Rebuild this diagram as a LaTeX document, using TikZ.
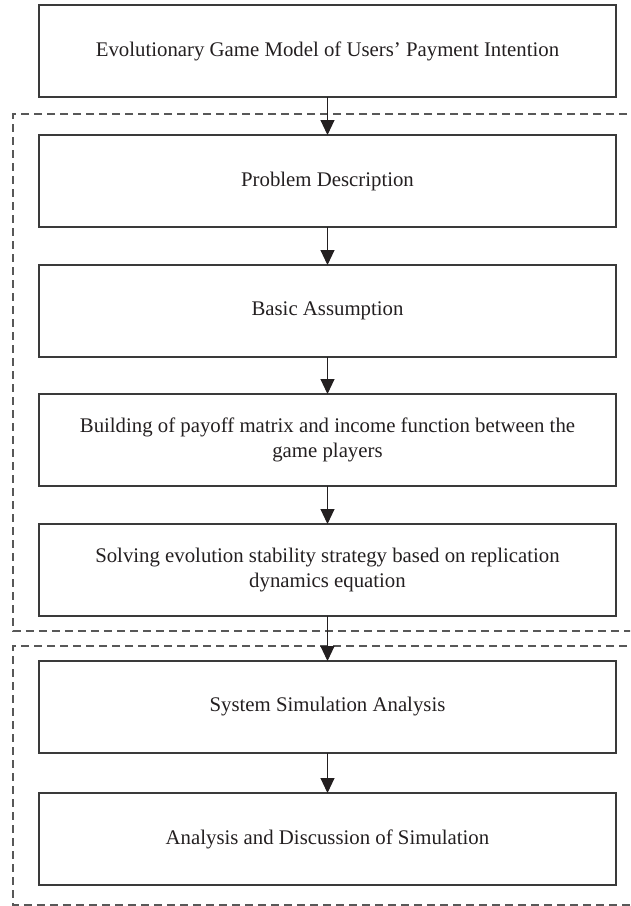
\documentclass[tikz,border=0pt]{standalone}
\usepackage{fontspec}
\setmainfont{Liberation Serif}
\usepackage{tikz}
\usetikzlibrary{
  arrows.meta,
  positioning
}
\definecolor{boxline}{HTML}{3A3A3A}
\definecolor{inktext}{HTML}{231F20}
\tikzset{
  stagebox/.style={draw=boxline,line width=1.3pt,minimum width=577pt,minimum height=92pt,
    inner sep=0pt,outer sep=0pt,align=center,text=inktext,
    font=\fontsize{20.8}{25}\selectfont},
  flowarrow/.style={draw=inktext,line width=1pt,-{Triangle[length=15pt,width=14pt]}},
  groupframe/.style={draw=boxline!85,line width=1.2pt,dash pattern=on 8pt off 5pt},
}

\begin{document}
\begin{tikzpicture}[x=1pt,y=1pt]
\useasboundingbox (0,0) rectangle (630,-906);
\clip (0,0) rectangle (630,-906);
\node[stagebox] (model) at (327.5,-51) {Evolutionary Game Model of Users’ Payment Intention};
\node[stagebox,below=38pt of model] (problem) {Problem Description};
\node[stagebox,below=38pt of problem] (assume) {Basic Assumption};
\node[stagebox,below=37pt of assume] (payoff) {Building of payoff matrix and income function between the\\game players};
\node[stagebox,below=38pt of payoff] (solve) {Solving evolution stability strategy based on replication\\dynamics equation};
\node[stagebox,below=45pt of solve] (simul) {System Simulation Analysis};
\node[stagebox,below=40pt of simul] (discuss) {Analysis and Discussion of Simulation};
% dashed groups, open on the right
\draw[groupframe] (640,-114) -| (13,-631) -- (640,-631);
\draw[groupframe] (640,-646) -| (13,-905) -- (640,-905);
\foreach \from/\to in {model/problem, problem/assume, assume/payoff, payoff/solve, solve/simul, simul/discuss}
{
  \draw[flowarrow] (\from) -- (\to);
}
\end{tikzpicture}
\end{document}
